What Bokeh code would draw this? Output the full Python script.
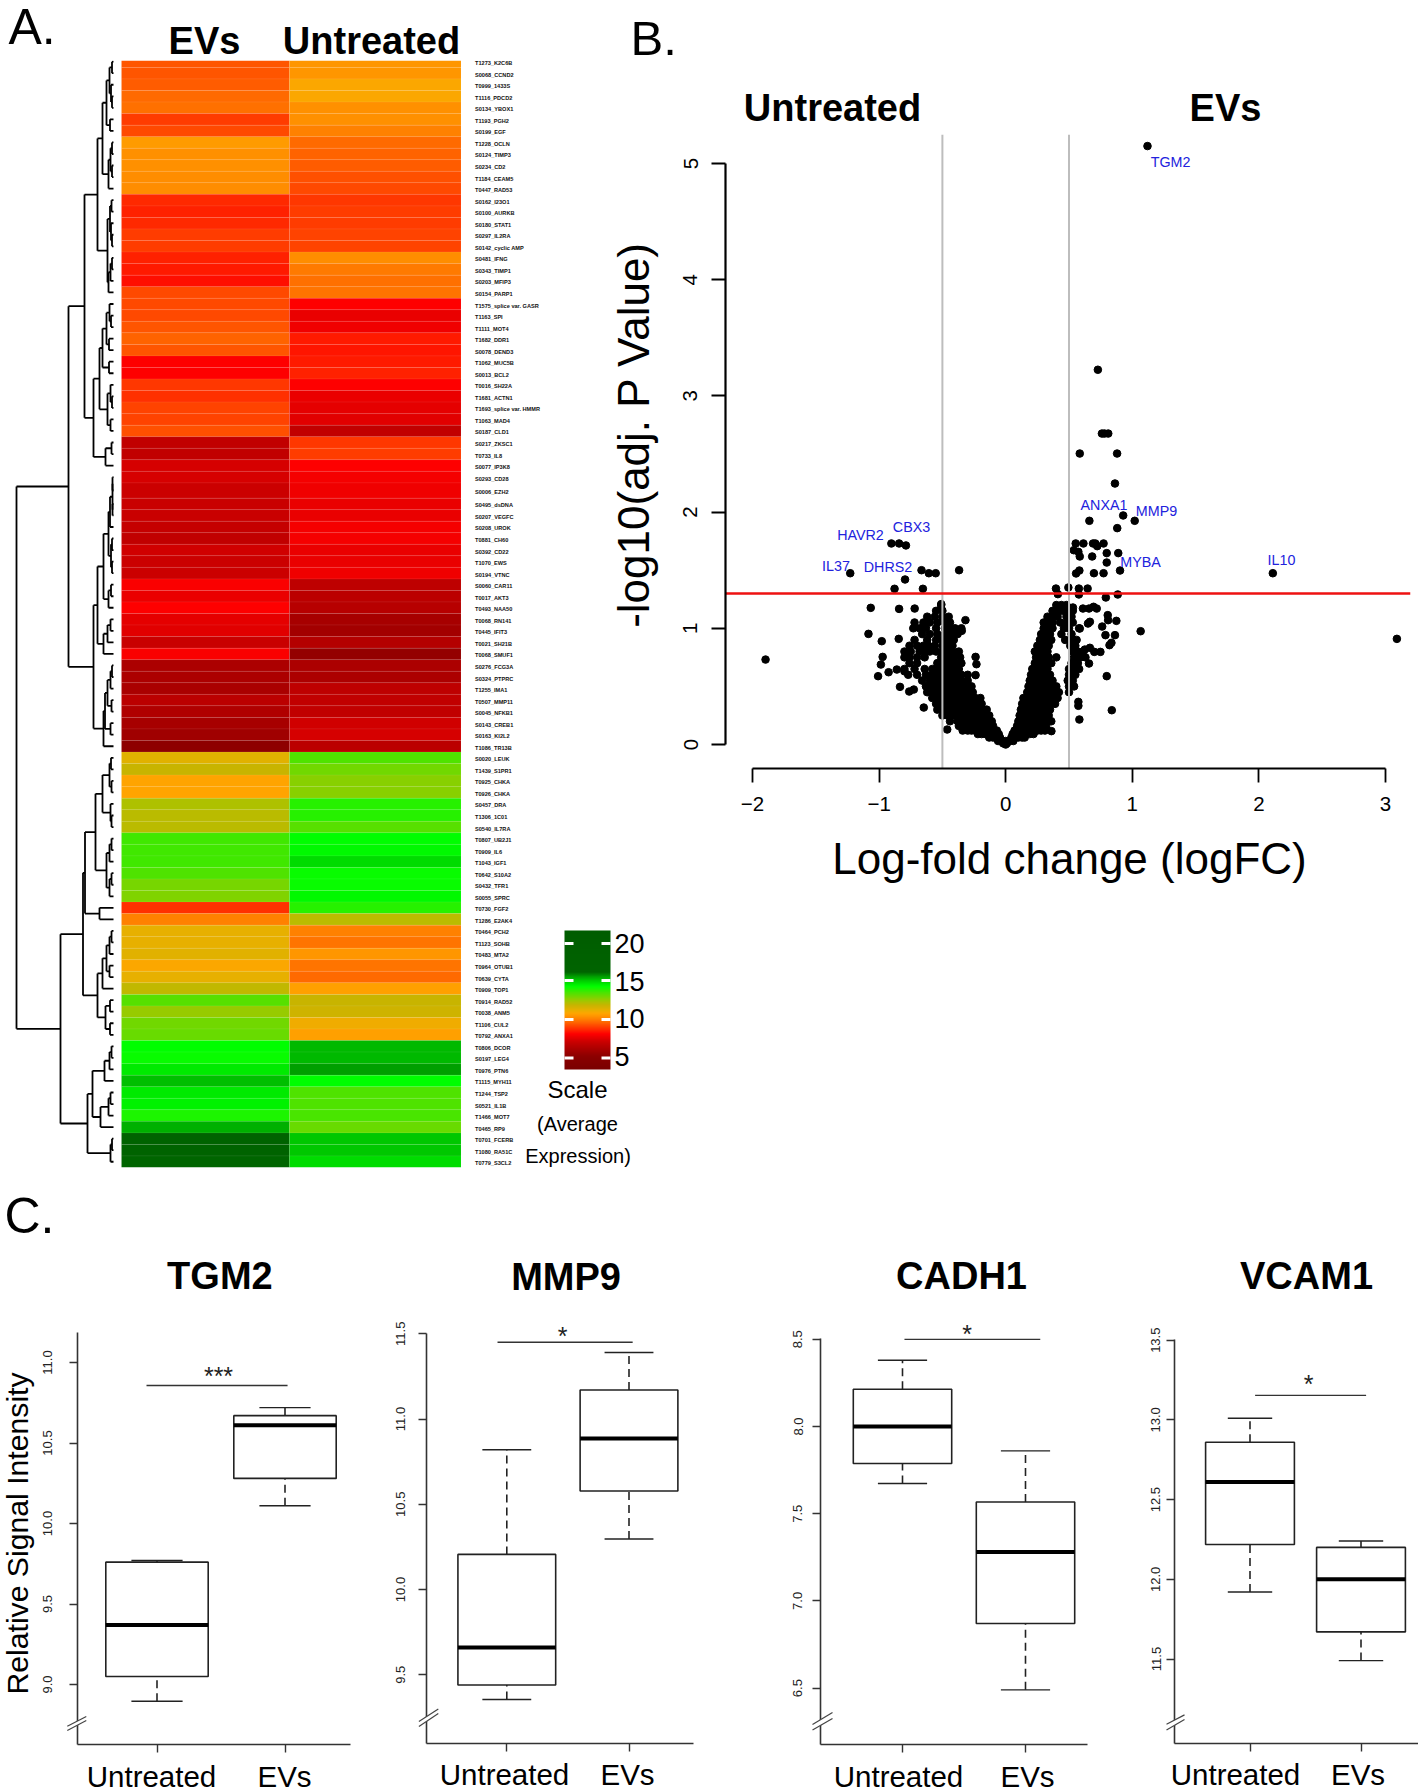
import numpy as np
from bokeh.embed import file_html
from bokeh.resources import INLINE
from bokeh.plotting import figure
from bokeh.layouts import row, column
from bokeh.models import (Range1d, LinearAxis, FixedTicker, LinearColorMapper, ColorBar, ColumnDataSource)
from bokeh.transform import transform
from bokeh.core.properties import value

FONT = "Liberation Sans"

# ------------------------------------------------------------------ heat map data
row_labels = """T1273_K2C6B S0068_CCND2 T0999_1433S T1116_PDCD2 S0134_YBOX1 T1193_PGH2 S0199_EGF T1228_OCLN
S0124_TIMP3 S0234_CD2 T1184_CEAM5 T0447_RAD53 S0162_I23O1 S0100_AURKB S0180_STAT1 S0297_IL2RA
S0142_cyclic~AMP S0481_IFNG S0343_TIMP1 S0203_MFIP3 S0154_PARP1 T1575_splice~var.~GASR T1163_SPI T1111_MOT4
T1682_DDR1 S0078_DEND3 T1062_MUC5B S0013_BCL2 T0016_SH22A T1681_ACTN1 T1693_splice~var.~HMMR T1063_MAD4
S0187_CLD1 S0217_ZKSC1 T0733_IL8 S0077_IP3K8 S0293_CD28 S0006_EZH2 S0495_dsDNA S0207_VEGFC
S0208_UROK T0881_CH60 S0392_CD22 T1070_EWS S0194_VTNC S0060_CAR11 T0017_AKT3 T0493_NAA50
T0068_RN141 T0445_IFIT3 T0021_SH21B T0068_SMUF1 S0276_FCG3A S0324_PTPRC T1255_IMA1 T0507_MMP11
S0045_NFKB1 S0143_CREB1 S0163_KI2L2 T1086_TR13B S0020_LEUK T1439_S1PR1 T0925_CHKA T0926_CHKA
S0457_DRA T1306_1C01 S0540_IL7RA T0807_UB2J1 T0909_IL6 T1043_IGF1 T0642_S10A2 S0432_TFR1
S0055_SPRC T0730_FGF2 T1286_E2AK4 T0464_PCH2 T1123_SOHB T0483_MTA2 T0964_OTUB1 T0639_CYTA
T0909_TOP1 T0914_RAD52 T0038_ANM5 T1106_CUL2 T0792_ANXA1 T0806_DCOR S0197_LEG4 T0976_PTN6
T1115_MYH11 T1244_TSP2 S0521_IL1B T1466_MOT7 T0465_RP9 T0701_FCERB T1080_RA51C T0779_S3CL2""".split()
row_labels = [s.replace("~", " ") for s in row_labels]

evs_expr = [9.3, 9.3, 9.4, 9.6, 9.7, 8.9, 9.1, 10.5, 10.3, 10.3, 10.2, 10.2,
            8.6, 8.5, 8.6, 8.9, 8.9, 8.5, 8.4, 8.2, 9.1, 9.1, 9.1, 9.3,
            9.5, 9.3, 8.0, 8.0, 8.8, 8.7, 9.0, 9.0, 9.2, 6.7, 6.7, 7.2,
            7.2, 7.0, 6.9, 6.9, 6.8, 6.7, 7.1, 7.0, 7.0, 7.9, 7.6, 8.0,
            7.5, 7.4, 6.9, 7.9, 6.1, 6.1, 6.0, 6.5, 6.2, 5.9, 5.7, 5.1,
            11.3, 11.8, 10.7, 10.7, 12.2, 12.0, 12.0, 13.6, 13.6, 13.6, 13.4, 12.9,
            12.8, 8.7, 10.0, 11.2, 11.2, 11.3, 10.8, 11.2, 11.9, 13.3, 12.5, 13.0,
            13.1, 14.3, 14.2, 14.6, 15.2, 14.6, 14.5, 14.0, 15.4, 17.0, 17.0, 16.2]
untreated_expr = [10.4, 10.4, 10.8, 10.8, 10.3, 10.3, 10.0, 9.6, 9.5, 9.4, 9.2, 9.1,
                  8.8, 8.9, 8.9, 9.0, 9.0, 10.2, 9.9, 9.7, 9.8, 8.0, 7.6, 7.7,
                  8.4, 8.3, 8.4, 8.5, 8.0, 7.6, 7.5, 7.4, 6.7, 8.8, 8.9, 8.0,
                  7.8, 7.7, 7.6, 7.6, 7.8, 7.8, 7.6, 7.6, 7.7, 6.6, 6.5, 6.4,
                  5.9, 5.8, 6.3, 5.3, 6.1, 6.1, 6.6, 6.7, 6.7, 7.1, 7.2, 6.5,
                  13.4, 13.0, 12.7, 12.7, 13.9, 13.9, 13.3, 14.3, 14.4, 14.8, 14.2, 14.2,
                  14.4, 13.9, 12.0, 10.0, 9.8, 10.4, 9.8, 9.6, 10.6, 11.8, 11.7, 11.0,
                  10.6, 15.3, 15.3, 15.6, 14.3, 13.4, 13.4, 13.5, 13.1, 15.1, 15.1, 14.8]

# dendrogram: (merge height, child, child); an int is a row number
u1 = (16, (11, (7, (4, (1.5, 1, 2), (2.5, 3, (1.5, 4, 5))), (3.5, 6, 7)),
           (5, (3, (1.5, 8, 9), (1.5, 10, 11)), 12)),
      (6, (3.5, (2, 13, 14), (2.5, 15, (1.5, 16, 17))), (5, (3, (1.5, 18, 19), 20), 21)))
u2 = (14, (11, (7, (4, 22, (2.5, 23, 24)), (4.5, 25, 26)), (4.5, 27, 28)),
      (6, (3, 29, (1.5, 30, 31)), (3, 32, 33)))
v1 = (8, (2, 34, 35), 36)
v2 = (16, (10, (5, (3.5, (1, (1, 37, 38), (1, 39, 40)), 41), (2.5, (1.5, 42, 43), (1.5, 44, 45))),
           (5, (2.5, 46, 47), 48)),
      (10, (6, (3, 49, 50), 51), 52))
v3 = (10, (8.5, (6, (3, (1.5, 53, 54), 55), (2, 56, 57)), (3, 58, 59)), 60)
top_tree = (45, (29, u1, (20, u2, v1)), (20, v2, v3))
w1 = (28.5, (18, (11, (4, (2.5, 61, 62), (2, 63, 64)), (3, 65, (2, 66, 67))),
             (7, (4, (2, 68, 69), 70), (4, (2, 71, 72), 73))), (14, 74, 75))
w2 = (16, (11, (7, (4, (2, 76, 77), 78), (4, 79, 80)), 81), (8, (3.5, 82, 83), (3.5, 84, 85)))
x1 = (21, (9, (4, (2, 86, 87), 88), 89), (13, (5, (3, 90, 91), 92), 93))
bottom_tree = (53, (30.5, w1, w2), (26, x1, (3, (1.5, 94, 95), 96)))
dendrogram = (97, top_tree, bottom_tree)

# ------------------------------------------------------------------ volcano data
sig_fc = [1.12, .728, .76, .78, .81, .585, .88, .863, .928, 1.019, .661, .881, .553, .614, .69, .708, .773,
          .723, .538, .574, .798, .889, .585, .683, .798, .903, .582, .556, .697, .773, 2.11, .397, .495,
          .578, .647, .412, .578, .885, -.903, -.842, -.788, -1.228, -.665, -.607, -.553, -.368, -.795,
          -.878, -.654]
sig_p = [5.15, 3.225, 2.676, 2.676, 2.676, 2.504, 2.504, 2.246, 1.971, 1.925, 1.925, 1.862, 1.73, 1.73, 1.73,
         1.73, 1.73, 1.707, 1.672, 1.658, 1.647, 1.647, 1.618, 1.618, 1.566, 1.497, 1.497, 1.472, 1.474,
         1.474, 1.474, 1.342, 1.351, 1.342, 1.342, 1.294, 1.291, 1.291, 1.73, 1.73, 1.713, 1.474, 1.5,
         1.474, 1.474, 1.5, 1.42, 1.34, 1.34]
outer_fc = [.791, -1.066, -.842, -.719, -.509, -.509, -1.084, -.979, -.845, -1.897, 3.09, 1.066, .838, .798,
            .582, .574, .574, .863, .788, .82, .835, .762, .874, .809, .806, .748, .70, .665, .625, .658,
            .65, .665, .585, .694, .719, .658, .61, .531, -.318, -.347, -.238, -.231, -.238, -.972, -.986,
            -1.008, -.925, -.86, -.8, -.835, -.762, -.726, -.647, -.462, .361]
outer_p = [1.265, 1.176, 1.167, 1.17, 1.208, 1.17, .952, .889, .909, .731, .909, .975, .295, .588,
           .215, .367, .333, .941, .941, .855, .875, 1.015, 1.064, 1.07, 1.113, .797, .797, .832, .817, .697,
           1.041, 1.056, .998, 1.185, 1.17, 1.17, 1.17, 1.179, 1.07, .978, .754, .691, .597, .754, .688,
           .588, .622, .645, .63, .496, .456, .473, .318, .129, .115]
cloud_rows = [
 (.0, [0]), (.01, [-.02, .01]), (.03, [-.06, -.03, 0, .03, .06]),
 (.06, [-.13, -.1, -.07, -.045, .045, .07, .1, .13, .15]),
 (.09, [-.22, -.19, -.16, -.13, -.1, -.07, -.055, .055, .07, .1, .13, .16, .19, .22]),
 (.12, [-.34, -.3, -.27, -.24, -.21, -.18, -.15, -.12, -.09, -.07, .07, .09, .13, .16, .19, .22, .25, .28, .31]),
 (.16, [-.37, -.34, -.31, -.28, -.25, -.22, -.19, -.16, -.13, -.1, .09, .11, .14, .17, .2, .23, .26, .29, .32]),
 (.2, [-.44, -.38, -.35, -.32, -.29, -.26, -.23, -.2, -.17, -.14, -.11, .1, .12, .15, .18, .21, .24, .27, .3, .33, .36]),
 (.25, [-.5, -.46, -.42, -.38, -.35, -.32, -.29, -.26, -.23, -.2, -.16, -.13, .11, .13, .16, .19, .22, .25, .28, .31, .34]),
 (.3, [-.54, -.5, -.46, -.42, -.39, -.36, -.33, -.3, -.27, -.24, -.21, -.18, -.15, .12, .14, .17, .2, .23, .26, .29, .32, .35]),
 (.35, [-.55, -.51, -.47, -.44, -.41, -.38, -.35, -.32, -.29, -.26, -.23, -.19, .13, .15, .18, .21, .24, .27, .3, .33, .36, .39]),
 (.4, [-.58, -.53, -.49, -.46, -.43, -.4, -.37, -.34, -.31, -.28, -.24, -.2, .14, .16, .19, .22, .25, .28, .31, .34, .37, .41]),
 (.45, [-.62, -.57, -.52, -.48, -.45, -.42, -.39, -.36, -.33, -.3, -.26, .17, .2, .23, .26, .29, .32, .35, .38, .42, .5]),
 (.5, [-.63, -.58, -.53, -.5, -.47, -.44, -.41, -.38, -.35, -.31, -.27, .18, .21, .24, .27, .3, .33, .36, .4, .5, .54]),
 (.55, [-.66, -.6, -.55, -.51, -.48, -.45, -.42, -.39, -.35, -.3, .19, .22, .25, .28, .31, .34, .37, .49, .53]),
 (.6, [-.77, -.7, -.63, -.58, -.53, -.49, -.46, -.43, -.4, -.35, -.3, .2, .23, .26, .29, .32, .35, .5, .55]),
 (.65, [-.8, -.72, -.64, -.58, -.54, -.5, -.47, -.44, -.41, -.37, .21, .24, .27, .3, .33, .5, .54, .58]),
 (.7, [-.76, -.7, -.54, -.5, -.47, -.44, -.4, -.35, .23, .26, .29, .32, .36, .52, .57]),
 (.75, [-.8, -.76, -.7, -.64, -.51, -.48, -.45, -.41, -.36, .24, .27, .3, .34, .4, .54, .59, .63]),
 (.8, [-.8, -.75, -.68, -.63, -.6, -.55, -.5, -.46, -.42, -.37, .23, .26, .29, .33, .53, .57, .61]),
 (.85, [-.76, -.7, -.65, -.61, -.56, -.5, -.46, -.42, .25, .28, .31, .34, .51, .55]),
 (.9, [-.72, -.62, -.55, -.5, -.46, -.41, .27, .3, .33, .36, .47, .53, .56]),
 (.95, [-.66, -.6, -.54, -.48, -.43, -.38, .28, .31, .35, .44, .52]),
 (1.0, [-.73, -.68, -.63, -.55, -.48, -.44, -.4, -.35, .3, .33, .37, .46, .5, .58]),
 (1.05, [-.72, -.65, -.6, -.54, -.48, -.44, .3, .33, .37, .43, .48, .53]),
 (1.1, [-.62, -.56, -.5, -.45, .33, .37, .41, .48, .52]),
 (1.15, [-.55, -.5, .37, .41, .45, .49, .53]),
 (1.2, [-.51, .4, .44, .48]),
]
gene_labels = [("TGM2", 1170, 161), ("ANXA1", 1103.5, 504.5), ("MMP9", 1156, 510.7), ("CBX3", 911, 526),
               ("HAVR2", 860, 534.5), ("IL37", 835.5, 565), ("DHRS2", 887.5, 566.5), ("MYBA", 1140, 561.5),
               ("IL10", 1281, 559.7)]

# ------------------------------------------------------------------ box plot data
# whisker low, q1, median, q3, whisker high   for Untreated, EVs
box_groups = ["Untreated", "EVs"]
tgm2_stats = [[8.896, 9.05, 9.37, 9.76, 9.77], [10.11, 10.28, 10.61, 10.67, 10.72]]
mmp9_stats = [[9.355, 9.44, 9.66, 10.206, 10.82], [10.296, 10.578, 10.885, 11.17, 11.39]]
cadh1_stats = [[7.673, 7.788, 8.0, 8.214, 8.38], [6.49, 6.87, 7.28, 7.567, 7.86]]
vcam1_stats = [[11.92, 12.218, 12.61, 12.86, 13.01], [11.49, 11.67, 12.0, 12.2, 12.24]]

# ------------------------------------------------------------------ transparent page-sized sheet for free text
overlay = figure(width=1418, height=1792, x_range=Range1d(0, 1418), y_range=Range1d(1792, 0),
                 output_backend="svg", toolbar_location=None, x_axis_location=None, y_axis_location=None,
                 min_border=0, border_fill_alpha=0, background_fill_alpha=0, outline_line_color=None,
                 frame_align=False, margin=(-1792, 0, 0, 0))
overlay.xgrid.visible = False
overlay.ygrid.visible = False


def label(text, px, py, size, bold=False, color="black", align="center", baseline="middle", angle=0):
    overlay.text(x=[px], y=[py], text=[text], text_font=value(FONT), text_font_size=f"{size}px",
                 text_font_style="bold" if bold else "normal", text_color=color,
                 text_align=align, text_baseline=baseline, angle=angle)


def panel_kw(box, frame, xr, yr):
    fx0, fy0, fx1, fy1 = box
    l, t, r, b = frame
    return dict(width=fx1 - fx0, height=fy1 - fy0, min_border_left=l - fx0, min_border_right=fx1 - r,
                min_border_top=t - fy0, min_border_bottom=fy1 - b, x_range=Range1d(*xr), y_range=Range1d(*yr),
                output_backend="svg", toolbar_location=None, x_axis_location=None, y_axis_location=None,
                border_fill_alpha=0, background_fill_alpha=0, outline_line_color=None, frame_align=False)


def make_fig(box, frame, xr, yr):
    f = figure(**panel_kw(box, frame, xr, yr))
    f.xgrid.visible = False
    f.ygrid.visible = False
    return f


# ------------------------------------------------------------------ A. heat map
HEAT_L, HEAT_SPLIT, HEAT_R = 121.0, 289.0, 460.5
COL_PX = (HEAT_R - HEAT_L) / 2
GAP_ROW = 37            # a slightly taller row in the scanned figure


def edge(n):
    return n if n <= GAP_ROW else n + 0.32


y_top = 0.4
y_bottom = edge(96)
heat = make_fig((0, 0, 650, 1190), (0, 60, 650, 1167),
                (-HEAT_L / COL_PX, (650 - HEAT_L) / COL_PX), (y_bottom, y_top))

stops_v = [3.3, 5, 6, 7, 7.5, 8, 8.7, 9.2, 9.6, 10.2, 10.7, 11.2, 11.8, 12.4, 13, 13.6, 14.3, 15, 15.6, 16.2, 21.7]
stops_c = ["#7a0000", "#8b0000", "#aa0000", "#cc0000", "#e60000", "#ff0000", "#ff3000", "#ff5000", "#ff6a00",
           "#ff8c00", "#ffa500", "#e6b000", "#c8b400", "#a0c800", "#70d800", "#40e800", "#00ff00", "#00d000",
           "#00a000", "#006400", "#005c00"]
rgb = np.array([[int(c[i:i + 2], 16) for i in (1, 3, 5)] for c in stops_c], float)
grid = np.linspace(3.3, 21.7, 512)
palette = ["#%02x%02x%02x" % tuple(int(round(np.interp(v, stops_v, rgb[:, k]))) for k in range(3)) for v in grid]
mapper = LinearColorMapper(palette=palette, low=3.3, high=21.7)

split = (HEAT_SPLIT - HEAT_L) / COL_PX
n_rows = len(row_labels)
tops = [max(edge(i), y_top) for i in range(n_rows)]
bots = [edge(i + 1) for i in range(n_rows)]
heat_src = ColumnDataSource(dict(
    left=[0.0] * n_rows + [split] * n_rows, right=[split] * n_rows + [2.0] * n_rows,
    top=tops * 2, bottom=bots * 2, v=evs_expr + untreated_expr))
heat.quad(left="left", right="right", top="top", bottom="bottom", source=heat_src,
          fill_color=transform("v", mapper), line_color="white", line_alpha=0.06, line_width=1)

centres = [(edge(i) + edge(i + 1)) / 2 for i in range(n_rows)]
heat.text(x=[(474.5 - HEAT_L) / COL_PX] * n_rows, y=centres, text=row_labels, text_font=value(FONT),
          text_font_size="5.6px", text_font_style="bold", text_baseline="middle", text_align="left",
          y_offset=1.5, text_color="#111111")

# dendrogram
heat.extra_x_ranges["dendro"] = Range1d(113, 113 - 650)
seg_x0, seg_y0, seg_x1, seg_y1 = [], [], [], []


def walk(node):
    if isinstance(node, int):
        return centres[node - 1], 0.0
    h, a, b = node
    ya, ha = walk(a)
    yb, hb = walk(b)
    seg_x0.extend([h, ha, hb])
    seg_x1.extend([h, h, h])
    seg_y0.extend([ya, ya, yb])
    seg_y1.extend([yb, ya, yb])
    return (ya + yb) / 2, h


walk(dendrogram)
heat.segment(seg_x0, seg_y0, seg_x1, seg_y1, x_range_name="dendro", line_color="black", line_width=1.8)

cb = ColorBar(color_mapper=mapper, location=(564, 1167 - 1069), width=46, height=139, padding=0, margin=0,
              ticker=FixedTicker(ticks=[5, 10, 15, 20]), major_tick_line_color=None, minor_tick_line_color=None,
              bar_line_color=None, border_line_color=None, background_fill_alpha=0,
              major_label_text_font=FONT, major_label_text_font_size="27px", major_label_text_color="black",
              label_standoff=4)
heat.add_layout(cb)
for py in (1057.5, 1019, 980, 943):
    overlay.quad(left=[564, 601], right=[573, 610], top=[py - 1.5] * 2, bottom=[py + 1.5] * 2,
                 fill_color="white", line_color=None)

label("A.", 8, 26, 50, align="left")
label("EVs", 204, 40.5, 38, bold=True)
label("Untreated", 371, 40.5, 38, bold=True)
label("Scale", 577, 1089, 24)
label("(Average", 577, 1123, 20)
label("Expression)", 577.5, 1155.7, 20)

# ------------------------------------------------------------------ B. volcano
VX0, VXU, VY0, VYU = 1005.2, 126.6, 744.0, 116.2
vol_xr = ((725 - VX0) / VXU, (1410 - VX0) / VXU)
vol_yr = ((VY0 - 768) / VYU, (VY0 - 134) / VYU)
vol = make_fig((612, 0, 1418, 1190), (725, 134, 1410, 768), vol_xr, vol_yr)
cloud_fc = [f for p, fs in cloud_rows for f in fs]
cloud_p = [p for p, fs in cloud_rows for f in fs]
vol.scatter(cloud_fc + outer_fc + sig_fc, cloud_p + outer_p + sig_p, size=7.6, color="black")
vol.segment([-.5, .5], [vol_yr[0]] * 2, [-.5, .5], [vol_yr[1]] * 2, line_color="#bdbdbd", line_width=2)
vol.segment([vol_xr[0]], [1.3], [vol_xr[1]], [1.3], line_color="#ee1111", line_width=2.5)

xa = LinearAxis(ticker=FixedTicker(ticks=[-2, -1, 0, 1, 2, 3]), bounds=(-2, 3),
                major_label_overrides={-2: "\u22122", -1: "\u22121", 0: "0", 1: "1", 2: "2", 3: "3"})
ya = LinearAxis(ticker=FixedTicker(ticks=[0, 1, 2, 3, 4, 5]), bounds=(0, 5), major_label_orientation="vertical")
for ax in (xa, ya):
    ax.axis_line_color = "black"
    ax.axis_line_width = 2.2
    ax.major_tick_line_color = "black"
    ax.major_tick_line_width = 1.8
    ax.major_tick_in = 0
    ax.major_tick_out = 14
    ax.minor_tick_line_color = None
    ax.major_label_text_font = FONT
    ax.major_label_text_font_size = "20.5px"
    ax.major_label_text_color = "black"
    ax.major_label_standoff = 14
vol.add_layout(xa, "below")
vol.add_layout(ya, "left")

label("B.", 630, 37.5, 49, align="left")
label("Untreated", 832, 107, 38, bold=True)
label("EVs", 1225, 107, 38, bold=True)
label("-log10(adj. P Value)", 633, 434.5, 44, angle=np.pi / 2)
label("Log-fold change (logFC)", 1069, 858, 44)
for name, px, py in gene_labels:
    label(name, px, py, 14.3, color="#2222dd")


# ------------------------------------------------------------------ C. box plots
def boxplot(stats, title, box, frame, tick_px, v_ref, y_ref, px_per_unit, yticks, bracket, star,
            title_xy, brk, standoff, names_xy):
    xu = tick_px[1] - tick_px[0]
    xr = (1 + (frame[0] - tick_px[0]) / xu, 1 + (frame[2] - tick_px[0]) / xu)
    yr = (v_ref + (y_ref - frame[3]) / px_per_unit, v_ref + (y_ref - frame[1]) / px_per_unit)
    f = make_fig(box, frame, xr, yr)
    for i, (lo, q1, med, q3, hi) in enumerate(stats):
        x = i + 1
        f.segment([x, x], [lo, q3], [x, x], [q1, hi], line_color="#222222", line_width=1.6, line_dash="8 5")
        f.segment([x - .2, x - .2], [lo, hi], [x + .2, x + .2], [lo, hi], line_color="#222222", line_width=1.4)
        f.quad(left=[x - .4], right=[x + .4], top=[q3], bottom=[q1], fill_color="white", line_color="#222222",
               line_width=1.6)
        f.segment([x - .4], [med], [x + .4], [med], line_color="black", line_width=4)
    f.segment([bracket[0]], [bracket[2]], [bracket[1]], [bracket[2]], line_color="#333333", line_width=1.4)

    xa = LinearAxis(ticker=FixedTicker(ticks=[1, 2]), major_label_overrides={1: "", 2: ""})
    ya = LinearAxis(ticker=FixedTicker(ticks=yticks), major_label_orientation="vertical",
                    major_label_overrides={t: f"{t:.1f}" for t in yticks})
    for ax in (xa, ya):
        ax.axis_line_color = "#333333"
        ax.axis_line_width = 1.6
        ax.major_tick_line_color = "#333333"
        ax.major_tick_line_width = 1.4
        ax.major_tick_in = 0
        ax.major_tick_out = 8
        ax.minor_tick_line_color = None
        ax.major_label_text_font = FONT
        ax.major_label_text_color = "#222222"
    ya.major_label_text_font_size = "13px"
    ya.major_label_standoff = standoff
    f.add_layout(xa, "below")
    f.add_layout(ya, "left")

    for name, nx in zip(box_groups, names_xy[:2]):
        label(name, nx, names_xy[2], 29.5)
    label("*" * star[3], star[0], star[1], star[2], baseline="alphabetic", color="#222222")
    label(title, title_xy[0], title_xy[1], 38, bold=True)
    # the axis break
    x0, x1, y0a, y1a, y0b, y1b = brk
    overlay.patch([x0, x1, x1, x0], [y0a, y1a, y1b, y0b], fill_color="white", line_color=None)
    overlay.segment([x0, x0], [y0a, y0b], [x1, x1], [y1a, y1b], line_color="#444444", line_width=1.2)
    return f


b1 = boxplot(tgm2_stats, "TGM2", (0, 1190, 360, 1792), (77, 1332, 350, 1744), (156.5, 284.5),
             9.0, 1684, 161, [9.0, 9.5, 10.0, 10.5, 11.0], (0.918, 2.02, 10.857), (218, 1375.4, 25, 3),
             (219.4, 1275), (66.8, 85.8, 1725.7, 1716, 1730, 1720), 18, (151, 284, 1776))
label("C.", 4, 1215, 50, align="left")
label("Relative Signal Intensity", 17, 1533, 30.2, angle=np.pi / 2)
b2 = boxplot(mmp9_stats, "MMP9", (360, 1190, 730, 1792), (426, 1333, 693, 1743), (506.3, 628.5),
             10.0, 1589, 170.5, [9.5, 10.0, 10.5, 11.0, 11.5], (0.924, 2.03, 11.45), (562, 1335.4, 25, 1),
             (565.6, 1276), (418.4, 437.8, 1721, 1708.5, 1726, 1713), 14, (504, 627, 1774))
b3 = boxplot(cadh1_stats, "CADH1", (730, 1190, 1120, 1792), (820, 1338, 1087, 1744), (902, 1025),
             8.0, 1426, 174.4, [6.5, 7.0, 7.5, 8.0, 8.5], (1.016, 2.12, 8.5), (966.6, 1333.4, 25, 1),
             (961, 1275.7), (812, 832, 1724, 1712, 1729.6, 1718), 10, (898, 1027, 1776))
b4 = boxplot(vcam1_stats, "VCAM1", (1120, 1190, 1418, 1792), (1174, 1339, 1418, 1743), (1249.5, 1360.5),
             12.0, 1578.8, 159.4, [11.5, 12.0, 12.5, 13.0, 13.5], (1.046, 2.046, 13.154), (1308, 1383.4, 25, 1),
             (1306, 1275.7), (1166, 1184, 1723.7, 1714.4, 1729.6, 1719), 6, (1235, 1357.5, 1774))

# ------------------------------------------------------------------ page
vol.margin = (0, 0, 0, 612 - 650)
top = row(heat, vol, margin=0)
bottom = row(b1, b2, b3, b4, margin=0)
page = column(top, bottom, overlay, margin=0)
open("out.html", "w").write(file_html(page, INLINE))
